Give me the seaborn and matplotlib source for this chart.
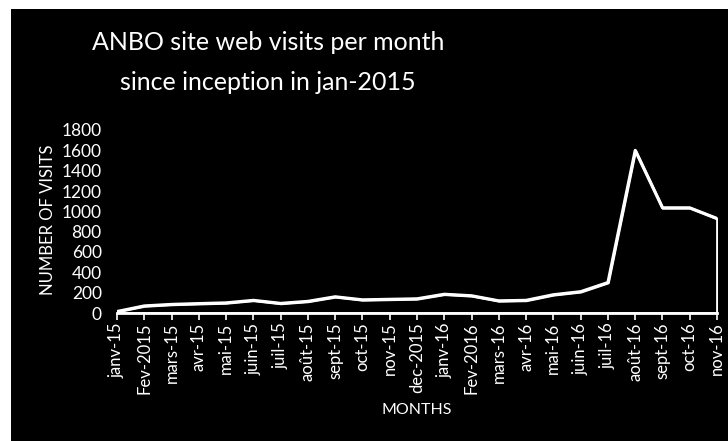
import matplotlib
matplotlib.use("Agg")
import matplotlib.pyplot as plt
from matplotlib.patches import Rectangle
import seaborn as sns
import pandas as pd
import numpy as np

months = ["janv-15", "Fev-2015", "mars-15", "avr-15", "mai-15", "juin-15",
          "juil-15", "août-15", "sept-15", "oct-15", "nov-15", "dec-2015",
          "janv-16", "Fev-2016", "mars-16", "avr-16", "mai-16", "juin-16",
          "juil-16", "août-16", "sept-16", "oct-16", "nov-16"]
visits = [15, 70, 85, 93, 100, 125, 95, 115, 160, 130, 135, 140,
          185, 170, 120, 125, 180, 210, 300, 1600, 1035, 1035, 930]
y_ticks = [0, 200, 400, 600, 800, 1000, 1200, 1400, 1600, 1800]

sns.set_theme(style="dark")
plt.rcParams['font.family'] = ['Lato', 'DejaVu Sans']

df = pd.DataFrame({"idx": np.arange(len(months)), "month": months, "visits": visits})

W, H = 728, 441
fig = plt.figure(figsize=(W / 100, H / 100), dpi=100)
fig.patch.set_facecolor("black")
# white scan margins (left and top)
fig.add_artist(Rectangle((0, 0), 11 / W, 1, transform=fig.transFigure,
                         facecolor="white", edgecolor="none", zorder=5))
fig.add_artist(Rectangle((0, 1 - 9 / H), 1, 9 / H, transform=fig.transFigure,
                         facecolor="white", edgecolor="none", zorder=5))

left, right = 117 / W, 717 / W
bottom, top = (H - 313) / H, (H - 130) / H
ax = fig.add_axes([left, bottom, right - left, top - bottom])
ax.set_facecolor("black")

ax.fill_between(df["idx"], df["visits"], 0, facecolor="black",
                edgecolor="white", linewidth=2, zorder=2)
sns.lineplot(data=df, x="idx", y="visits", color="white", linewidth=2.2,
             ax=ax, zorder=3)

ax.set_xlim(0, len(months) - 1)
ax.set_ylim(0, 1800)
ax.set_xticks(df["idx"])
ax.set_xticklabels(months, rotation=90, color="white", fontsize=12)
ax.set_yticks(y_ticks)
ax.set_yticklabels([str(v) for v in y_ticks], color="white", fontsize=12.5)
ax.grid(False)

for s in ["top", "right", "left"]:
    ax.spines[s].set_visible(False)
ax.spines["bottom"].set_color("white")
ax.spines["bottom"].set_linewidth(2)
ax.tick_params(axis="x", colors="white", length=5, width=1.2, direction="out",
               bottom=True, pad=2)
ax.tick_params(axis="y", length=0, pad=11)

ax.set_xlabel("MONTHS", color="white", fontsize=11.5)
ax.xaxis.set_label_coords(0.5, (313 - 410) / 183)
ax.xaxis.label.set_va("center")
ax.set_ylabel("NUMBER OF VISITS", color="white", fontsize=12)
ax.yaxis.set_label_coords((48 - 117) / 600, (313 - 220) / 183)
ax.yaxis.label.set_va("center")

fig.text(268 / W, 1 - 42 / H, "ANBO site web visits per month",
         ha="center", va="center", color="white", fontsize=18)
fig.text(268 / W, 1 - 82 / H, "since inception in jan-2015",
         ha="center", va="center", color="white", fontsize=18)

fig.savefig("out.png", dpi=100, facecolor=fig.get_facecolor())
